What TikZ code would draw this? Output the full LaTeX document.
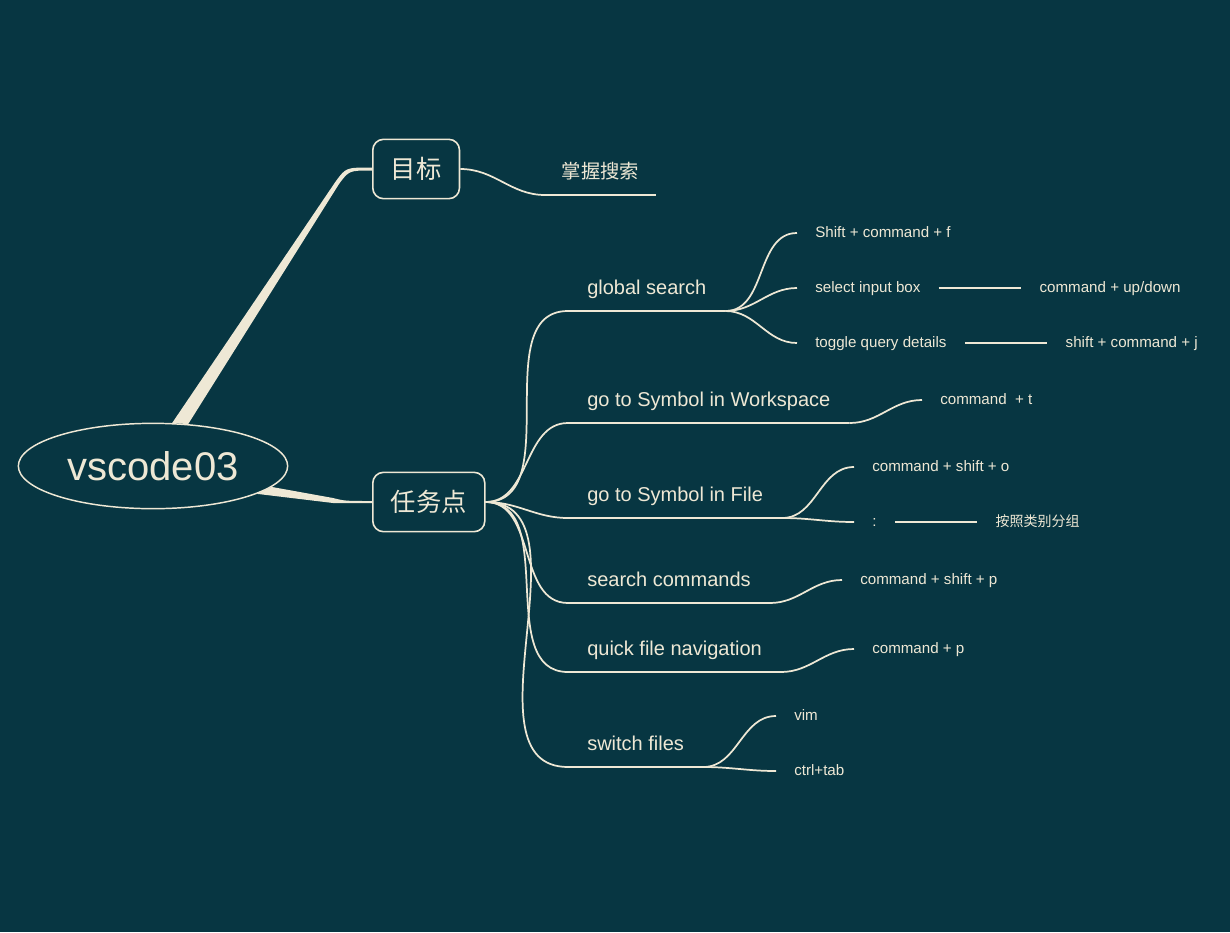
\documentclass[tikz,border=0pt]{standalone}
\usepackage{fontspec}
\setmainfont{Liberation Sans}
\newfontfamily\cjk{Noto Sans CJK SC}
\usetikzlibrary{shapes.geometric,positioning,calc}
\definecolor{bgcol}{HTML}{073642}
\definecolor{fgcol}{HTML}{EEE8D5}
\begin{document}
\begin{tikzpicture}[x=0.75pt,y=-0.75pt,
    root/.style ={ellipse, draw=fgcol, line width=1.1pt, minimum width=202pt, minimum height=64pt, inner sep=0pt, text=fgcol, font=\fontsize{30}{36}\selectfont},
    topic/.style ={rectangle, rounded corners=8pt, draw=fgcol, line width=1.2pt, minimum height=44.5pt, inner xsep=13.5pt, text=fgcol, font=\cjk\fontsize{19}{23}\selectfont},
    branch/.style ={inner xsep=14.25pt, inner ysep=12pt, text depth=0pt, text=fgcol, font=\fontsize{15}{18}\selectfont},
    goal/.style ={branch, inner xsep=12.4pt, font=\cjk\fontsize{14.5}{17}\selectfont},
    leaf/.style ={inner xsep=13.5pt, inner ysep=1pt, text height=8pt, text depth=2pt, text=fgcol, font=\fontsize{11.35}{14}\selectfont},
    cjkleaf/.style ={leaf, font=\cjk\fontsize{10.5}{13}\selectfont},
    link/.style ={draw=fgcol, line width=1.3pt},
    bar/.style ={draw=fgcol, line width=1.8pt},
    trunk/.style ={fill=fgcol}]
   \fill[bgcol] (0,0) rectangle (1230,932);
   \useasboundingbox (0,0) rectangle (1230,932);

   \node[root] (root) at (153,466) {vscode03};
   \node[topic, anchor=west] (mb) at (372,169) {目标};
   \node[topic, anchor=west] (tk) at (372,502) {任务点};

   \node[goal, anchor=south west] (zw) at (545,195) {掌握搜索};

   \node[branch, anchor=south west] (gs) at (568,311) {global search};
   \node[branch, anchor=south west] (ws) at (568,423) {go to Symbol in Workspace};
   \node[branch, anchor=south west] (sf) at (568,518) {go to Symbol in File};
   \node[branch, anchor=south west] (sc) at (568,603) {search commands};
   \node[branch, anchor=south west] (qf) at (568,672) {quick file navigation};
   \node[branch, anchor=south west] (sw) at (568,767) {switch files};

   \node[leaf, anchor=west] (gs1) at (797,233) {Shift + command + f};
   \node[leaf, anchor=west] (gs2) at (797,288) {select input box};
   \node[leaf, right=62pt of gs2] (gs2a) {command + up/down};
   \node[leaf, anchor=west] (gs3) at (797,343) {toggle query details};
   \node[leaf, right=62pt of gs3] (gs3a) {shift + command + j};
   \node[leaf, anchor=west] (ws1) at (922,400) {command~ + t};
   \node[leaf, anchor=west] (sf1) at (854,467) {command + shift + o};
   \node[leaf, anchor=west] (sf2) at (854,522) {:};
   \node[cjkleaf, right=62pt of sf2] (sf2a) {按照类别分组};
   \node[leaf, anchor=west] (sc1) at (842,580) {command + shift + p};
   \node[leaf, anchor=west] (qf1) at (854,649) {command + p};
   \node[leaf, anchor=west] (sw1) at (776,716) {vim};
   \node[leaf, anchor=west] (sw2) at (776,771) {ctrl+tab};

   \fill[trunk] (root.66) -- ($(mb.west)+(-36,12)$) .. controls ($(mb.west)+(-26,-1.5)$) .. ($(mb.west)+(0,-1.5)$)
      -- ($(mb.west)+(0,1.5)$) .. controls ($(mb.west)+(-23,1.5)$) .. ($(mb.west)+(-33,15)$) -- (root.50) -- cycle;
   \fill[trunk] (root.-10) -- ($(tk.west)+(-39,-4)$) .. controls ($(tk.west)+(-27,-1)$) .. ($(tk.west)+(0,-1)$)
      -- ($(tk.west)+(0,1)$) .. controls ($(tk.west)+(-27,1)$) .. ($(tk.west)+(-39,1)$) -- (root.-15) -- cycle;

   \draw[link] (mb.east) to[out=0,in=180] (zw.south west);
   \draw[bar] (zw.south west) -- (zw.south east);

   \foreach \b in {gs,ws,sf,sc,qf,sw}
      \draw[link] (tk.east) to[out=0,in=180] (\b.south west) -- (\b.south east);

   \draw[link] (gs.south east) to[out=0,in=180] (gs1.west);
   \draw[link] (gs.south east) to[out=0,in=180] (gs2.west);
   \draw[link] (gs.south east) to[out=0,in=180] (gs3.west);
   \draw[bar] (gs2.east) -- (gs2a.west);
   \draw[bar] (gs3.east) -- (gs3a.west);
   \draw[link] (ws.south east) to[out=0,in=180] (ws1.west);
   \draw[link] (sf.south east) to[out=0,in=180] (sf1.west);
   \draw[link] (sf.south east) to[out=0,in=180] (sf2.west);
   \draw[bar] (sf2.east) -- (sf2a.west);
   \draw[link] (sc.south east) to[out=0,in=180] (sc1.west);
   \draw[link] (qf.south east) to[out=0,in=180] (qf1.west);
   \draw[link] (sw.south east) to[out=0,in=180] (sw1.west);
   \draw[link] (sw.south east) to[out=0,in=180] (sw2.west);
 \end{tikzpicture}
\end{document}
